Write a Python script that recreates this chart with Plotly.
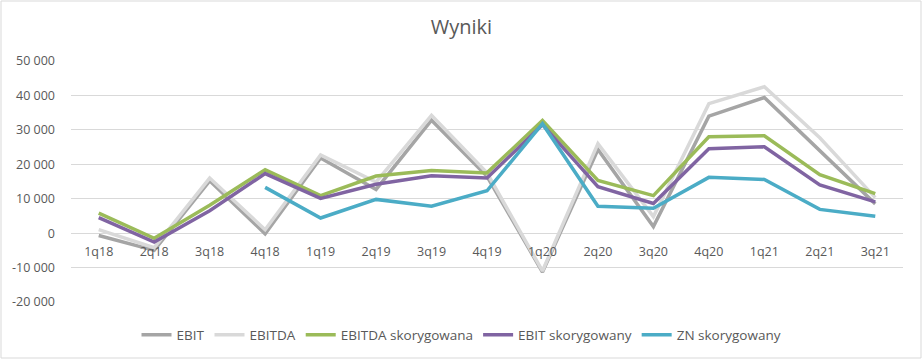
import plotly.graph_objects as go

categories = ["1q18", "2q18", "3q18", "4q18", "1q19", "2q19", "3q19", "4q19",
              "1q20", "2q20", "3q20", "4q20", "1q21", "2q21", "3q21"]

ebit = [-700, -5000, 15200, -200, 21800, 12700, 32800, 16500,
        -11300, 24300, 1900, 34000, 39400, 24000, 8500]
ebitda = [1000, -4200, 16000, 1000, 22700, 14800, 34200, 17500,
          -11000, 26000, 4800, 37600, 42500, 27700, 10300]
ebitda_skor = [5800, -1500, 8100, 18400, 10900, 16600, 18200, 17500,
               32700, 15300, 10900, 28000, 28300, 17000, 11500]
ebit_skor = [4500, -2600, 6500, 17300, 10100, 14200, 16700, 16000,
             31500, 13500, 8600, 24500, 25100, 14000, 9100]
zn_skor = [None, None, None, 13300, 4400, 9800, 7800, 12300,
           31800, 7800, 7200, 16200, 15600, 6900, 4900]

series_names = ["EBIT", "EBITDA", "EBITDA skorygowana", "EBIT skorygowany", "ZN skorygowany"]
series_values = [ebit, ebitda, ebitda_skor, ebit_skor, zn_skor]
series_colors = ["#A5A5A5", "#D9D9D9", "#9BBB59", "#8064A2", "#4BACC6"]

y_tickvals = [-20000, -10000, 0, 10000, 20000, 30000, 40000, 50000]
y_ticktext = ["-20 000", "-10 000", "0", "10 000", "20 000", "30 000", "40 000", "50 000"]

font_family = "Open Sans, Liberation Sans, sans-serif"
text_color = "#595959"

fig = go.Figure()
for name, vals, col in zip(series_names, series_values, series_colors):
    fig.add_trace(go.Scatter(
        x=categories, y=vals, name=name, mode="lines",
        line=dict(color=col, width=3.5), connectgaps=False,
    ))

y_min, y_max = -20000, 50000

fig.update_layout(
    width=923, height=360,
    margin=dict(l=71, r=20, t=61, b=58, autoexpand=False),
    paper_bgcolor="white", plot_bgcolor="white",
    font=dict(family=font_family, color=text_color, size=12),
    title=dict(text="Wyniki", x=0.5, xref="container", xanchor="center",
               y=1 - 27 / 360, yref="container", yanchor="middle",
               font=dict(size=20, color=text_color)),
    showlegend=True,
    legend=dict(orientation="h", x=0.5, xref="container", xanchor="center",
                y=1 - 335 / 360, yref="container", yanchor="middle",
                font=dict(size=13.5, color=text_color),
                itemwidth=30),
    xaxis=dict(
        type="category", range=[-0.5, len(categories) - 0.5],
        showgrid=False, zeroline=False, showline=False,
        ticks="", anchor="free", position=(0 - y_min) / (y_max - y_min),
        ticklabelstandoff=9,
        tickfont=dict(size=12.5, color=text_color),
    ),
    yaxis=dict(
        range=[y_min, y_max], tickvals=y_tickvals, ticktext=y_ticktext,
        showgrid=True, gridcolor="#D9D9D9", gridwidth=1,
        zeroline=True, zerolinecolor="#D9D9D9", zerolinewidth=1,
        showline=False, ticks="", ticklabelstandoff=15,
        tickfont=dict(size=12.5, color=text_color),
    ),
    hovermode=False,
)

# chart area border
fig.add_shape(type="rect", xref="paper", yref="paper",
              x0=-70 / 832, x1=1 + 18 / 832, y0=-56 / 241, y1=1 + 60 / 241,
              line=dict(color="#D9D9D9", width=1), fillcolor="rgba(0,0,0,0)")

fig.write_html("out.html", config={"displayModeBar": False},
               post_script="document.body.style.margin='0';document.body.style.overflow='hidden';")
